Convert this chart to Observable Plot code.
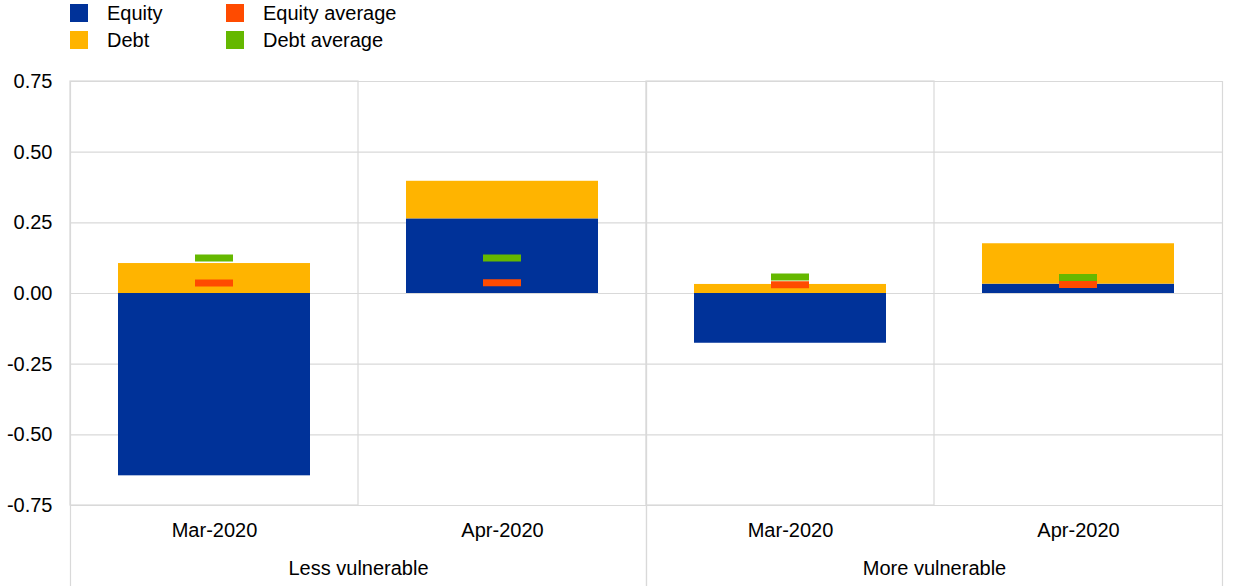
<!DOCTYPE html>
<html><head><meta charset="utf-8">
<script src="https://cdn.jsdelivr.net/npm/d3@7"></script>
<script src="https://cdn.jsdelivr.net/npm/@observablehq/plot@0.6"></script>
<style>
body{margin:0;background:#fff;font-family:"Liberation Sans",Arial,sans-serif;}
#legend{position:relative;height:55px;width:1240px;font-size:20px;color:#000;}
.item{position:absolute;display:flex;align-items:center;height:18px;line-height:18px;white-space:nowrap}
.sw{width:18px;height:18px;margin-right:19px;flex:none}
</style></head><body>
<div id="legend"></div>
<div id="chart"></div>
<script>
const groups = ["Less vulnerable", "More vulnerable"];
const months = ["Mar-2020", "Apr-2020"];
const series = ["Equity", "Debt"];
const averages = ["Equity average", "Debt average"];
const colors = ["#003299", "#FFB400", "#FF4B00", "#65B800"];
// values indexed [group][month]
const equity = [[-0.645, 0.264], [-0.176, 0.033]];
const debt = [[0.106, 0.133], [0.032, 0.143]];
const equityAvg = [[0.037, 0.038], [0.031, 0.032]];
const debtAvg = [[0.126, 0.126], [0.058, 0.057]];
const yTicks = [-0.75, -0.5, -0.25, 0, 0.25, 0.5, 0.75];

// legend
const legendItems = [
  {label: series[0], color: colors[0], left: 70, top: 4},
  {label: series[1], color: colors[1], left: 70, top: 31},
  {label: averages[0], color: colors[2], left: 226, top: 4},
  {label: averages[1], color: colors[3], left: 226, top: 31}
];
const leg = document.getElementById("legend");
legendItems.forEach(it => {
  const d = document.createElement("div");
  d.className = "item";
  d.style.left = it.left + "px";
  d.style.top = it.top + "px";
  d.innerHTML = `<span class="sw" style="background:${it.color}"></span><span>${it.label}</span>`;
  leg.appendChild(d);
});

const bars = [];
const avgs = [];
groups.forEach((g, gi) => months.forEach((m, mi) => {
  bars.push({group: g, month: m, series: series[0], value: equity[gi][mi]});
  bars.push({group: g, month: m, series: series[1], value: debt[gi][mi]});
  avgs.push({group: g, month: m, series: averages[0], value: equityAvg[gi][mi]});
  avgs.push({group: g, month: m, series: averages[1], value: debtAvg[gi][mi]});
}));
const seps = groups.map(g => ({group: g, month: months[0]}));
const grid = "#d9d9d9";

const chart = Plot.plot({
  width: 1240,
  height: 531,
  marginLeft: 70,
  marginRight: 18,
  marginTop: 26,
  marginBottom: 81,
  style: {fontFamily: "'Liberation Sans', Arial, sans-serif", fontSize: "20px", color: "#000", background: "#fff"},
  fx: {domain: groups, padding: 0, label: null},
  x: {domain: months, padding: 0, label: null},
  y: {domain: [yTicks[0], yTicks[yTicks.length - 1]], label: null},
  color: {domain: [...series, ...averages], range: colors},
  marks: [
    Plot.gridY(yTicks, {stroke: grid, strokeOpacity: 1, strokeWidth: 1.2}),
    Plot.barY(seps, {fx: "group", x: "month", y1: yTicks[0], y2: yTicks[yTicks.length - 1], fill: "none", stroke: grid, strokeWidth: 1.2}),
    Plot.frame({anchor: "left", stroke: grid, strokeWidth: 1.2, insetBottom: -81}),
    Plot.frame({anchor: "right", stroke: grid, strokeWidth: 1.2, insetBottom: -81}),
    Plot.barY(bars, {fx: "group", x: "month", y: "value", fill: "series", insetLeft: 48, insetRight: 48}),
    Plot.tickY(avgs, {fx: "group", x: "month", y: "value", stroke: "series", strokeWidth: 7, insetLeft: 125, insetRight: 125}),
    Plot.axisY(yTicks, {tickSize: 0, tickPadding: 18, fontSize: 20, tickFormat: d => d.toFixed(2), label: null}),
    Plot.axisX({tickSize: 0, tickPadding: 17, fontSize: 20, label: null}),
    Plot.axisFx({anchor: "bottom", tickSize: 0, tickPadding: 55, fontSize: 20, label: null})
  ]
});
document.getElementById("chart").appendChild(chart);
</script>
</body></html>
